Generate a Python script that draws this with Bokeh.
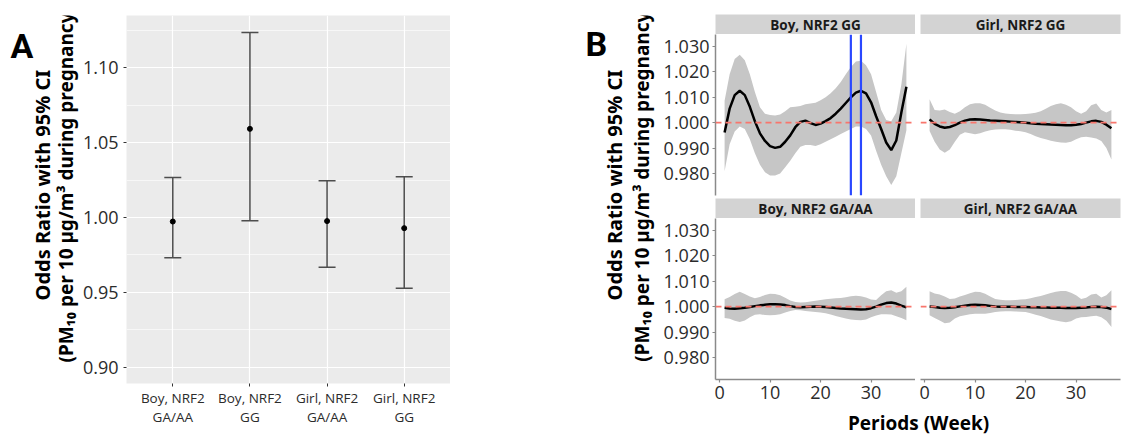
import math
from bokeh.plotting import figure
from bokeh.models import (ColumnDataSource, FactorRange, Range1d, FixedTicker, CategoricalAxis,
                          NumeralTickFormatter, CustomJSTickFormatter, Whisker, TeeHead, Span)
from bokeh.layouts import row, column
from bokeh.core.properties import value
from bokeh.embed import file_html
from bokeh.resources import INLINE

FONT = "Open Sans"
LABFONT = "Noto Sans"

# ---------------- Panel A data ----------------
groups = ["Boy, NRF2 GA/AA", "Boy, NRF2 GG", "Girl, NRF2 GA/AA", "Girl, NRF2 GG"]
group_line1 = ["Boy, NRF2", "Boy, NRF2", "Girl, NRF2", "Girl, NRF2"]
group_line2 = ["GA/AA", "GG", "GA/AA", "GG"]
or_est = [0.9973, 1.0591, 0.9976, 0.9929]
or_lo = [0.9731, 0.9978, 0.9669, 0.9529]
or_hi = [1.0267, 1.1233, 1.0245, 1.0271]
a_ticks = [0.90, 0.95, 1.00, 1.05, 1.10]
a_minor = [0.925, 0.975, 1.025, 1.075, 1.125]

# ---------------- Panel B data ----------------
weeks = list(range(1, 38))
b_xticks = [0, 10, 20, 30]
b_yticks = [0.980, 0.990, 1.000, 1.010, 1.020, 1.030]
sig_weeks = [26, 28]

boy_gg_mean = [0.9961, 1.0055, 1.0108, 1.0125, 1.0108, 1.0062, 1.0005, 0.9958, 0.9928, 0.9908,
               0.9901, 0.9905, 0.9925, 0.9950, 0.9982, 1.0003, 1.0008, 0.9998, 0.9991, 0.9996,
               1.0006, 1.0018, 1.0035, 1.0055, 1.0077, 1.0099, 1.0118, 1.0125, 1.0115, 1.0080,
               1.0025, 0.9975, 0.9922, 0.9892, 0.9930, 1.0040, 1.0141]
boy_gg_hi = [1.0086, 1.0190, 1.0250, 1.0267, 1.0245, 1.0190, 1.0120, 1.0060, 1.0035, 1.0030,
             1.0028, 1.0032, 1.0045, 1.0060, 1.0062, 1.0065, 1.0072, 1.0075, 1.0078, 1.0088,
             1.0100, 1.0115, 1.0135, 1.0160, 1.0190, 1.0218, 1.0240, 1.0243, 1.0225, 1.0190,
             1.0120, 1.0050, 1.0010, 1.0005, 1.0040, 1.0150, 1.0310]
boy_gg_lo = [0.9809, 0.9915, 0.9965, 0.9985, 0.9975, 0.9935, 0.9880, 0.9835, 0.9805, 0.9793,
             0.9793, 0.9800, 0.9825, 0.9850, 0.9880, 0.9905, 0.9912, 0.9912, 0.9908, 0.9915,
             0.9925, 0.9935, 0.9945, 0.9955, 0.9965, 0.9975, 0.9985, 0.9985, 0.9975, 0.9950,
             0.9890, 0.9835, 0.9790, 0.9755, 0.9790, 0.9880, 0.9970]

girl_gg_mean = [1.0013, 0.9995, 0.9985, 0.9980, 0.9983, 0.9990, 1.0000, 1.0008, 1.0012, 1.0013,
                1.0012, 1.0010, 1.0008, 1.0007, 1.0006, 1.0005, 1.0004, 1.0003, 1.0002, 1.0000,
                0.9998, 0.9996, 0.9995, 0.9994, 0.9993, 0.9992, 0.9991, 0.9990, 0.9990, 0.9992,
                0.9995, 1.0000, 1.0005, 1.0007, 1.0003, 0.9992, 0.9978]
girl_gg_hi = [1.0092, 1.0050, 1.0048, 1.0052, 1.0042, 1.0035, 1.0045, 1.0060, 1.0072, 1.0076,
              1.0076, 1.0070, 1.0058, 1.0048, 1.0040, 1.0036, 1.0034, 1.0033, 1.0033, 1.0034,
              1.0036, 1.0039, 1.0045, 1.0055, 1.0065, 1.0072, 1.0076, 1.0070, 1.0060, 1.0045,
              1.0035, 1.0045, 1.0068, 1.0075, 1.0050, 1.0040, 1.0050]
girl_gg_lo = [0.9967, 0.9925, 0.9895, 0.9882, 0.9895, 0.9925, 0.9952, 0.9962, 0.9958, 0.9954,
              0.9958, 0.9965, 0.9970, 0.9973, 0.9974, 0.9974, 0.9972, 0.9968, 0.9966, 0.9962,
              0.9955, 0.9947, 0.9940, 0.9935, 0.9929, 0.9925, 0.9922, 0.9921, 0.9925, 0.9935,
              0.9943, 0.9945, 0.9942, 0.9938, 0.9928, 0.9900, 0.9855]

boy_ga_mean = [0.9996, 0.9993, 0.9992, 0.9994, 0.9996, 0.9999, 1.0002, 1.0005, 1.0007, 1.0009,
               1.0009, 1.0008, 1.0006, 1.0002, 0.9999, 0.9998, 0.9999, 1.0000, 1.0001, 1.0000,
               0.9999, 0.9997, 0.9995, 0.9993, 0.9992, 0.9991, 0.9990, 0.9989, 0.9990, 0.9994,
               1.0000, 1.0008, 1.0014, 1.0016, 1.0012, 1.0004, 0.9997]
boy_ga_hi = [1.0029, 1.0038, 1.0050, 1.0058, 1.0050, 1.0040, 1.0033, 1.0038, 1.0046, 1.0051,
             1.0050, 1.0045, 1.0035, 1.0024, 1.0018, 1.0016, 1.0017, 1.0020, 1.0023, 1.0026,
             1.0029, 1.0031, 1.0033, 1.0034, 1.0037, 1.0041, 1.0043, 1.0041, 1.0036, 1.0028,
             1.0026, 1.0045, 1.0060, 1.0064, 1.0055, 1.0060, 1.0078]
boy_ga_lo = [0.9955, 0.9952, 0.9945, 0.9940, 0.9946, 0.9958, 0.9968, 0.9970, 0.9967, 0.9966,
             0.9967, 0.9970, 0.9977, 0.9983, 0.9987, 0.9986, 0.9983, 0.9981, 0.9979, 0.9977,
             0.9974, 0.9969, 0.9963, 0.9958, 0.9953, 0.9950, 0.9948, 0.9947, 0.9950, 0.9958,
             0.9965, 0.9970, 0.9970, 0.9969, 0.9962, 0.9955, 0.9947]

girl_ga_mean = [1.0001, 0.9999, 0.9996, 0.9995, 0.9996, 0.9998, 1.0001, 1.0004, 1.0006, 1.0007,
                1.0006, 1.0005, 1.0003, 1.0001, 1.0000, 1.0000, 1.0000, 0.9999, 0.9999, 0.9999,
                0.9998, 0.9998, 0.9997, 0.9997, 0.9996, 0.9996, 0.9996, 0.9995, 0.9995, 0.9995,
                0.9996, 0.9997, 0.9999, 1.0000, 0.9999, 0.9996, 0.9991]
girl_ga_hi = [1.0060, 1.0052, 1.0048, 1.0040, 1.0030, 1.0032, 1.0040, 1.0046, 1.0053, 1.0058,
              1.0057, 1.0051, 1.0040, 1.0030, 1.0027, 1.0025, 1.0025, 1.0026, 1.0028, 1.0029,
              1.0033, 1.0038, 1.0042, 1.0048, 1.0054, 1.0058, 1.0061, 1.0061, 1.0055, 1.0045,
              1.0030, 1.0035, 1.0048, 1.0051, 1.0036, 1.0045, 1.0064]
girl_ga_lo = [0.9966, 0.9955, 0.9946, 0.9935, 0.9938, 0.9953, 0.9962, 0.9966, 0.9970, 0.9972,
              0.9972, 0.9972, 0.9975, 0.9979, 0.9981, 0.9982, 0.9982, 0.9981, 0.9980, 0.9979,
              0.9974, 0.9968, 0.9963, 0.9956, 0.9950, 0.9946, 0.9942, 0.9939, 0.9943, 0.9953,
              0.9958, 0.9959, 0.9962, 0.9964, 0.9958, 0.9945, 0.9920]

facet_titles = ["Boy, NRF2 GG", "Girl, NRF2 GG", "Boy, NRF2 GA/AA", "Girl, NRF2 GA/AA"]

YLAB1 = "Odds Ratio with 95% CI"
YLAB2 = "(PM\u2081\u2080 per 10 \u00b5g/m\u00b3 during pregnancy)"
XLAB_B = "Periods (Week)"

TXT = "#2b2b2b"
TOTAL_H = 436
YLAB_SIZE = "20px"
YLAB2_SIZE = "19px"


def blank(width, height):
    """A figure whose frame is the whole canvas, 1 data unit = 1 pixel."""
    f = figure(width=width, height=height, x_range=Range1d(0, width), y_range=Range1d(0, height),
               output_backend="svg", toolbar_location=None,
               min_border_left=0, min_border_right=0, min_border_top=0, min_border_bottom=0)
    f.axis.visible = False
    f.grid.visible = False
    f.outline_line_color = None
    return f


def put_text(f, x, y, text, size, angle=0.0, align="center", baseline="middle",
             font=FONT, style="bold", color="black"):
    f.text(x=[x], y=[y], text=[text], angle=angle, text_align=align, text_baseline=baseline,
           text_font=value(font), text_font_size=size, text_font_style=style, text_color=color)


# ---------------- label column left of panel A ----------------
LA_W = 79
labA = blank(LA_W, TOTAL_H)
put_text(labA, 10, TOTAL_H - 13, "A", "34px", align="left", baseline="top", font="Roboto")
put_text(labA, 42, TOTAL_H - 201, YLAB1, YLAB_SIZE, angle=math.pi / 2, font=LABFONT)
put_text(labA, 65, TOTAL_H - 200, YLAB2, YLAB2_SIZE, angle=math.pi / 2, font=LABFONT)

# ---------------- Panel A ----------------
A_FL, A_FT, A_FW, A_FH = 123, 15, 327, 368
pa = figure(width=(A_FL - LA_W) + A_FW, height=TOTAL_H,
            x_range=FactorRange(factors=groups, range_padding=0.1, range_padding_units="absolute"),
            y_range=Range1d(0.8893, 1.1347),
            output_backend="svg", toolbar_location=None,
            min_border_left=A_FL - LA_W, min_border_right=0, min_border_top=A_FT,
            min_border_bottom=TOTAL_H - A_FT - A_FH)
pa.background_fill_color = "#EBEBEB"
pa.outline_line_color = None
pa.xgrid.grid_line_color = "white"
pa.xgrid.grid_line_width = 1.2
pa.ygrid.grid_line_color = "white"
pa.ygrid.grid_line_width = 1.2
pa.ygrid.minor_grid_line_color = "white"
pa.ygrid.minor_grid_line_width = 0.6
pa.yaxis.ticker = FixedTicker(ticks=a_ticks, minor_ticks=a_minor)
pa.yaxis.formatter = NumeralTickFormatter(format="0.00")
pa.xaxis.formatter = CustomJSTickFormatter(args=dict(keys=groups, labs=group_line1),
                                           code="return labs[keys.indexOf(tick)];")
for ax in (pa.xaxis[0], pa.yaxis[0]):
    ax.axis_line_color = None
    ax.major_tick_line_color = "#333333"
    ax.major_tick_out = 3
    ax.major_tick_in = 0
    ax.minor_tick_line_color = None
    ax.major_label_text_font = FONT
    ax.major_label_text_color = TXT
pa.yaxis.major_label_text_font_size = "18px"
pa.yaxis.major_label_standoff = 4
pa.xaxis.major_label_text_font_size = "13.5px"
pa.xaxis.major_label_standoff = 2

ax2 = CategoricalAxis(formatter=CustomJSTickFormatter(args=dict(keys=groups, labs=group_line2),
                                                      code="return labs[keys.indexOf(tick)];"),
                      axis_line_color=None, major_tick_line_color=None, minor_tick_line_color=None,
                      major_tick_out=0, major_tick_in=0, major_label_standoff=-2,
                      major_label_text_font=FONT, major_label_text_font_size="13.5px",
                      major_label_text_color=TXT)
pa.add_layout(ax2, "below")

srcA = ColumnDataSource(dict(g=groups, est=or_est, lo=or_lo, hi=or_hi))
ebc = "#4d4d4d"
pa.add_layout(Whisker(base="g", upper="hi", lower="lo", source=srcA,
                      line_color=ebc, line_width=1.5,
                      upper_head=TeeHead(size=17, line_color=ebc, line_width=1.5),
                      lower_head=TeeHead(size=17, line_color=ebc, line_width=1.5)))
pa.scatter("g", "est", source=srcA, size=5, color="black")

# ---------------- label column left of panel B ----------------
B_LAB_X0 = A_FL + A_FW          # 450
B_FL = 715                      # left edge of left facet frames
LB = 60                         # room for y tick labels
LBL_W = B_FL - LB - B_LAB_X0    # 205
labB = blank(LBL_W, TOTAL_H)
put_text(labB, 585 - B_LAB_X0, TOTAL_H - 10, "B", "34px", align="left", baseline="top", font="Roboto")
put_text(labB, 614 - B_LAB_X0, TOTAL_H - 201, YLAB1, YLAB_SIZE, angle=math.pi / 2, font=LABFONT)
put_text(labB, 641 - B_LAB_X0, TOTAL_H - 199, YLAB2, YLAB2_SIZE, angle=math.pi / 2, font=LABFONT)

# ---------------- Panel B facets ----------------
XR = (-0.8, 38.8)
YR = (0.9714, 1.0346)
FW, FH = 200, 161
GAP = 5
AXC = "#8a8a8a"


def facet(mean, lo, hi, left_axis, bottom_axis, blue=None):
    ml = LB if left_axis else GAP
    mr = 0 if left_axis else 1
    mb = 32 if bottom_axis else 3
    p = figure(width=ml + FW + mr, height=FH + mb,
               x_range=Range1d(*XR), y_range=Range1d(*YR),
               output_backend="svg", toolbar_location=None,
               min_border_left=ml, min_border_right=mr, min_border_top=0, min_border_bottom=mb)
    p.outline_line_color = None
    p.grid.visible = False
    p.background_fill_color = "white"
    p.varea(x=weeks, y1=lo, y2=hi, fill_color="#c6c6c6")
    p.line(weeks, mean, line_color="black", line_width=2.5)
    p.add_layout(Span(location=1.0, dimension="width", line_color="#F8766D",
                      line_dash="6 4", line_width=1.6))
    if blue:
        for wk in blue:
            p.add_layout(Span(location=wk, dimension="height", line_color="#2a48ff", line_width=2.2))
    p.xaxis.ticker = FixedTicker(ticks=b_xticks)
    p.yaxis.ticker = FixedTicker(ticks=b_yticks)
    p.yaxis.formatter = NumeralTickFormatter(format="0.000")
    for ax in (p.xaxis[0], p.yaxis[0]):
        ax.axis_line_color = AXC
        ax.axis_line_width = 1.5
        ax.major_tick_line_color = AXC
        ax.major_tick_line_width = 1.2
        ax.major_tick_out = 3
        ax.major_tick_in = 0
        ax.minor_tick_line_color = None
        ax.major_label_text_font = FONT
        ax.major_label_text_font_size = "18px"
        ax.major_label_text_color = TXT
        ax.major_label_standoff = 3
    p.yaxis.visible = left_axis
    p.xaxis.visible = bottom_axis
    return p


def strip(text, left, right, top):
    s = figure(width=left + FW + right, height=top + 20,
               x_range=Range1d(0, 1), y_range=Range1d(0, 1),
               output_backend="svg", toolbar_location=None,
               min_border_left=left, min_border_right=right, min_border_top=top, min_border_bottom=0)
    s.axis.visible = False
    s.grid.visible = False
    s.outline_line_color = None
    s.background_fill_color = "#d3d3d3"
    s.text(x=[0.5], y=[0.5], text=[text], text_align="center", text_baseline="middle",
           text_font=value(FONT), text_font_size="13.5px", text_font_style="bold", text_color="#1a1a1a")
    return s


s_tl = strip(facet_titles[0], LB, 0, 14)
s_tr = strip(facet_titles[1], GAP, 1, 14)
f_tl = facet(boy_gg_mean, boy_gg_lo, boy_gg_hi, True, False, blue=sig_weeks)
f_tr = facet(girl_gg_mean, girl_gg_lo, girl_gg_hi, False, False)
s_bl = strip(facet_titles[2], LB, 0, 0)
s_br = strip(facet_titles[3], GAP, 1, 0)
f_bl = facet(boy_ga_mean, boy_ga_lo, boy_ga_hi, True, True)
f_br = facet(girl_ga_mean, girl_ga_lo, girl_ga_hi, False, True)

XL_W = LB + FW + GAP + FW + 1
XL_H = TOTAL_H - (34 + FH + 3 + 20 + FH + 32)
xl = blank(XL_W, XL_H)
put_text(xl, 918 - (B_FL - LB), XL_H / 2 + 1, XLAB_B, "19px")

panel_b = column(row(s_tl, s_tr), row(f_tl, f_tr), row(s_bl, s_br), row(f_bl, f_br), xl)
layout = row(labA, pa, labB, panel_b)

open("out.html", "w").write(file_html(layout, INLINE))
